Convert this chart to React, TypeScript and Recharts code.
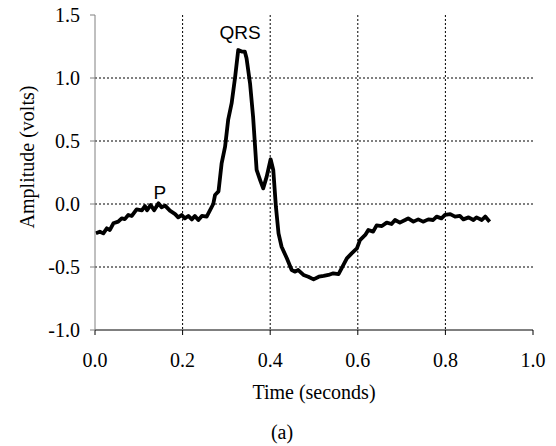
import React from "react";
import { LineChart, Line, XAxis, YAxis, CartesianGrid, ReferenceDot } from "recharts";

// ECG trace (time in seconds, amplitude in volts)
const times = [
  0.002, 0.011, 0.019, 0.027, 0.034, 0.042, 0.053, 0.061, 0.068, 0.076, 0.084, 0.095,
  0.107, 0.114, 0.119, 0.127, 0.135, 0.145, 0.152, 0.16, 0.171, 0.183, 0.19, 0.198,
  0.205, 0.213, 0.221, 0.228, 0.236, 0.244, 0.255, 0.263, 0.27, 0.274, 0.282, 0.289,
  0.297, 0.304, 0.312, 0.32, 0.327, 0.335, 0.342, 0.346, 0.354, 0.361, 0.369, 0.377,
  0.384, 0.392, 0.401, 0.407, 0.413, 0.419, 0.426, 0.438, 0.449, 0.457, 0.464, 0.476,
  0.487, 0.499, 0.511, 0.522, 0.533, 0.544, 0.556, 0.563, 0.575, 0.586, 0.598, 0.605,
  0.617, 0.624, 0.635, 0.643, 0.655, 0.666, 0.677, 0.685, 0.696, 0.708, 0.715, 0.727,
  0.738, 0.749, 0.761, 0.772, 0.78, 0.791, 0.799, 0.811, 0.822, 0.833, 0.841, 0.853,
  0.864, 0.871, 0.883, 0.891, 0.901,
];
const amplitude = [
  -0.233, -0.22, -0.233, -0.193, -0.206, -0.153, -0.14, -0.114, -0.12, -0.087, -0.095, -0.042,
  -0.05, -0.016, -0.05, -0.008, -0.05, 0.005, -0.026, -0.013, -0.053, -0.08, -0.106, -0.087,
  -0.114, -0.095, -0.122, -0.095, -0.127, -0.095, -0.1, -0.047, 0.0, 0.071, 0.1, 0.32,
  0.455, 0.667, 0.8, 1.01, 1.222, 1.21, 1.21, 1.156, 0.957, 0.69, 0.27, 0.19,
  0.124, 0.217, 0.355, 0.27, -0.02, -0.233, -0.339, -0.431, -0.524, -0.537, -0.524, -0.563,
  -0.577, -0.598, -0.577, -0.571, -0.563, -0.55, -0.556, -0.511, -0.431, -0.392, -0.352, -0.286,
  -0.246, -0.206, -0.219, -0.17, -0.175, -0.148, -0.159, -0.127, -0.148, -0.127, -0.114, -0.14,
  -0.122, -0.14, -0.122, -0.127, -0.1, -0.114, -0.087, -0.08, -0.1, -0.095, -0.122, -0.106,
  -0.127, -0.106, -0.127, -0.1, -0.14,
];

const xTicks = [0, 0.2, 0.4, 0.6, 0.8, 1.0];
const yTicks = [-1.0, -0.5, 0.0, 0.5, 1.0, 1.5];
const gridX = [0.2, 0.4, 0.6, 0.8];
const gridY = [-0.5, 0.0, 0.5, 1.0];

// wave annotations
const waveLabels = [
  { name: "P", t: 0.148, v: 0.095 },
  { name: "QRS", t: 0.331, v: 1.365 },
];

const data = times.map((t, i) => ({ t, v: amplitude[i] }));

const serif = "Liberation Serif";
const sans = "Liberation Sans";

export default function App() {
  return (
    <div style={{ position: "absolute", left: 0, top: 0, width: 556, height: 446, background: "#fff", fontFamily: serif }}>
      <LineChart width={556} height={446} data={data} margin={{ top: 15, right: 23, left: 0, bottom: 76 }} style={{ fontFamily: serif }}>
        <CartesianGrid
          stroke="#000"
          strokeDasharray="2 2"
          horizontalValues={gridY}
          verticalValues={gridX}
        />
        <XAxis
          dataKey="t"
          type="number"
          domain={[0, 1]}
          ticks={xTicks}
          height={40}
          tickSize={5}
          tickMargin={18}
          fontSize={20}
          fontFamily={serif}
          tickFormatter={(v) => v.toFixed(1)}
          tick={{ fill: "#000", fontSize: 20, fontFamily: serif }}
          stroke="#000"
          label={{ value: "Time (seconds)", position: "bottom", offset: 15, fill: "#000", fontSize: 20, fontFamily: serif }}
        />
        <XAxis xAxisId="top" orientation="top" type="number" domain={[0, 1]} height={0} tick={false} tickLine={false} stroke="#808080" />
        <YAxis
          type="number"
          domain={[-1, 1.5]}
          ticks={yTicks}
          width={95}
          tickSize={5}
          tickMargin={10}
          fontSize={20}
          fontFamily={serif}
          tickFormatter={(v) => v.toFixed(1)}
          tick={{ fill: "#000", fontSize: 20, fontFamily: serif }}
          stroke="#808080"
          label={{
            value: "Amplitude (volts)",
            content: () => (
              <text x={27} y={157} transform="rotate(-90 27 157)" textAnchor="middle" dominantBaseline="central" fill="#000" fontSize={20} fontFamily={serif}>
                Amplitude (volts)
              </text>
            ),
          }}
        />
        <YAxis yAxisId="right" orientation="right" type="number" domain={[-1, 1.5]} width={0} tick={false} tickLine={false} stroke="#808080" />
        <Line dataKey="v" type="linear" stroke="#000" strokeWidth={3.8} strokeLinejoin="round" dot={false} isAnimationActive={false} />
        {waveLabels.map((w) => (
          <ReferenceDot
            key={w.name}
            x={w.t}
            y={w.v}
            r={1}
            fill="none"
            stroke="none"
            label={{ value: w.name, position: "center", fill: "#000", fontSize: 19, fontFamily: sans }}
          />
        ))}
      </LineChart>
      <div style={{ position: "absolute", left: 0, width: 564, top: 421, textAlign: "center", fontFamily: serif, fontSize: 20, color: "#000" }}>
        (a)
      </div>
    </div>
  );
}
